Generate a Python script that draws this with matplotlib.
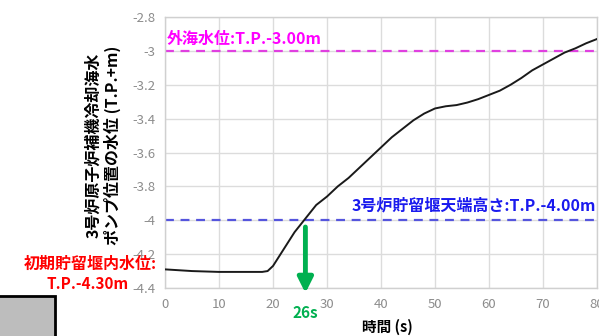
import matplotlib
matplotlib.use("Agg")
import matplotlib.pyplot as plt
from matplotlib.patches import Rectangle

plt.rcParams['font.family'] = ['Noto Sans CJK JP', 'DejaVu Sans']

# ---- data ----
time_s = [0, 5, 10, 15, 18, 19, 20, 21, 22, 23, 24, 25, 26, 27, 28, 30, 32, 34,
          36, 38, 40, 42, 44, 46, 48, 50, 52, 54, 56, 58, 60, 62, 64, 66, 68,
          70, 72, 74, 76, 78, 80]
level_m = [-4.29, -4.30, -4.305, -4.305, -4.305, -4.30, -4.27, -4.22, -4.17,
           -4.12, -4.07, -4.03, -3.99, -3.95, -3.91, -3.86, -3.80, -3.75,
           -3.69, -3.63, -3.57, -3.51, -3.46, -3.41, -3.37, -3.34, -3.327,
           -3.32, -3.305, -3.285, -3.26, -3.235, -3.20, -3.16, -3.115, -3.08,
           -3.045, -3.01, -2.985, -2.955, -2.93]
sea_level = -3.00
weir_top = -4.00
initial_level = -4.30
cross_time = 26
x_ticks = [0, 10, 20, 30, 40, 50, 60, 70, 80]
y_ticks = [-2.8, -3.0, -3.2, -3.4, -3.6, -3.8, -4.0, -4.2, -4.4]
y_tick_labels = ['-2.8', '-3', '-3.2', '-3.4', '-3.6', '-3.8', '-4', '-4.2', '-4.4']

W, H = 599, 336
fig = plt.figure(figsize=(W / 100, H / 100), dpi=100)
ax = fig.add_axes([165 / W, 1 - 288 / H, (597 - 165) / W, (288 - 17) / H])

ax.set_xlim(0, 80)
ax.set_ylim(-4.4, -2.8)
ax.set_xticks(x_ticks)
ax.set_yticks(y_ticks)
ax.set_yticklabels(y_tick_labels)
ax.grid(True, color='#dcdcdc', linewidth=1.0)
ax.set_axisbelow(True)
for s in ax.spines.values():
    s.set_color('#d0d0d0')
    s.set_linewidth(1.0)
ax.tick_params(length=0, colors='#8c8c8c', labelsize=9.5, pad=7)

ax.plot(time_s, level_m, color='#1a1a1a', linewidth=1.4, zorder=3)

ax.axhline(sea_level, color='#e040e0', linestyle=(0, (4, 3)), linewidth=1.6, zorder=2)
ax.axhline(weir_top, color='#5555dd', linestyle=(0, (4, 3)), linewidth=1.6, zorder=2)

ax.text(0.4, sea_level + 0.07, '外海水位:T.P.-3.00m', color='#ff00ff',
        fontsize=11.5, fontweight='bold', ha='left', va='center')
ax.text(79.8, weir_top + 0.085, '3号炉貯留堰天端高さ:T.P.-4.00m', color='#1a1aee',
        fontsize=11.5, fontweight='bold', ha='right', va='center')

# green arrow
ax.annotate('', xy=(cross_time, -4.43), xytext=(cross_time, weir_top - 0.04),
            arrowprops=dict(arrowstyle='-|>,head_length=0.9,head_width=0.45',
                            color='#00b050', lw=3.5, shrinkA=0, shrinkB=0),
            annotation_clip=False, zorder=5)
ax.text(cross_time, -4.545, '26s', color='#00b050', fontsize=11, fontweight='bold',
        ha='center', va='center', clip_on=False)

# axis labels
fig.text(387 / W, 1 - 327 / H, '時間 (s)', fontsize=10.5, fontweight='bold',
         ha='center', va='center')
fig.text(93 / W, 1 - 145 / H, '3号炉原子炉補機冷却海水', fontsize=11.5, fontweight='bold',
         rotation=90, ha='center', va='center')
fig.text(112 / W, 1 - 145 / H, 'ポンプ位置の水位 (T.P.+m)', fontsize=11.5, fontweight='bold',
         rotation=90, ha='center', va='center')

# initial level label
fig.text(157 / W, 1 - 264 / H, '初期貯留堰内水位:', color='#ff0000', fontsize=11.5,
         fontweight='bold', ha='right', va='center')
fig.text(129 / W, 1 - 284 / H, 'T.P.-4.30m', color='#ff0000', fontsize=11,
         fontweight='bold', ha='right', va='center')

# grey box bottom-left
fig.patches.append(Rectangle((-5 / W, -5 / H), 60 / W, (336 - 296 + 5) / H,
                             transform=fig.transFigure, facecolor='#bdbdbd',
                             edgecolor='black', linewidth=2))

fig.savefig('out.png', dpi=100)
